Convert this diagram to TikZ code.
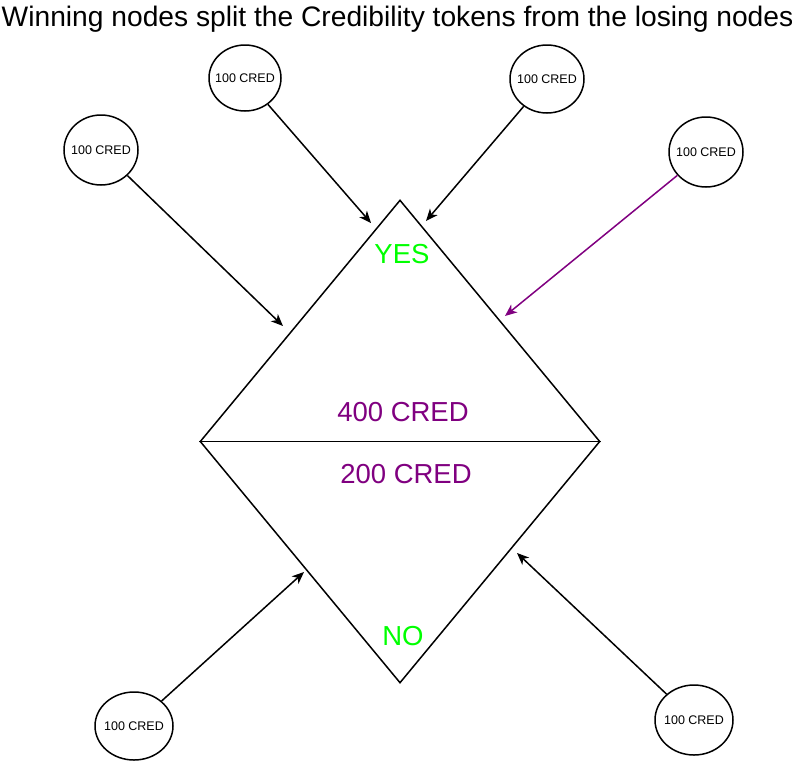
\documentclass[tikz,border=0pt]{standalone}
\usepackage{fontspec}
\setmainfont{Liberation Sans}
\usetikzlibrary{shapes.geometric,arrows.meta}

\definecolor{credpurple}{HTML}{800080}
\definecolor{votegreen}{HTML}{00FF00}

\begin{document}
\begin{tikzpicture}[x=1pt,y=-1pt,line width=1.5pt,
	cred/.style={ellipse,draw,inner ysep=0pt,inner xsep=-10pt,font=\fontsize{12.5}{14}\selectfont},
	big/.style={font=\fontsize{27.5}{32}\selectfont},
	push/.style={-{Stealth[length=12pt,width=10pt,inset=3.5pt]}}]
	\useasboundingbox (0,0) rectangle (792,761);
	\node[anchor=base west,inner xsep=1pt,font=\fontsize{28.2}{32}\selectfont] (title) at (0,26) {Winning nodes split the Credibility tokens from the losing nodes};
	% the market
	\node[diamond,draw,minimum width=400pt,minimum height=483pt,inner sep=0pt] (market) at (400,441.5) {};
	\draw (market.west) -- (market.east);
	\node[big,text=votegreen] (yes) at (402,254) {YES};
	\node[big,text=votegreen] (no) at (403,636) {NO};
	\node[big,text=credpurple] (top) at (403,412) {400 CRED};
	\node[big,text=credpurple] (bot) at (406,474) {200 CRED};
	% voters
	\node[cred,minimum width=72pt,minimum height=66pt] (c1) at (245,78) {100 CRED};
	\node[cred,minimum width=74pt,minimum height=68pt] (c2) at (547,79) {100 CRED};
	\node[cred,minimum width=74pt,minimum height=70pt] (c3) at (101,150) {100 CRED};
	\node[cred,minimum width=74pt,minimum height=70pt] (c4) at (706,152) {100 CRED};
	\node[cred,minimum width=78pt,minimum height=68pt] (c5) at (134,726) {100 CRED};
	\node[cred,minimum width=78pt,minimum height=70pt] (c6) at (694,720) {100 CRED};
	\coordinate (t1) at (371,223);
	\coordinate (t2) at (426,221);
	\coordinate (t3) at (283,326);
	\coordinate (t4) at (505,316);
	\coordinate (t5) at (304,572);
	\coordinate (t6) at (517,553);
	\path[push]
	(c1) edge (t1)
	(c2) edge (t2)
	(c3) edge (t3)
	(c4) edge [credpurple] (t4)
	(c5) edge (t5)
	(c6) edge (t6)
	;
\end{tikzpicture}
\end{document}
